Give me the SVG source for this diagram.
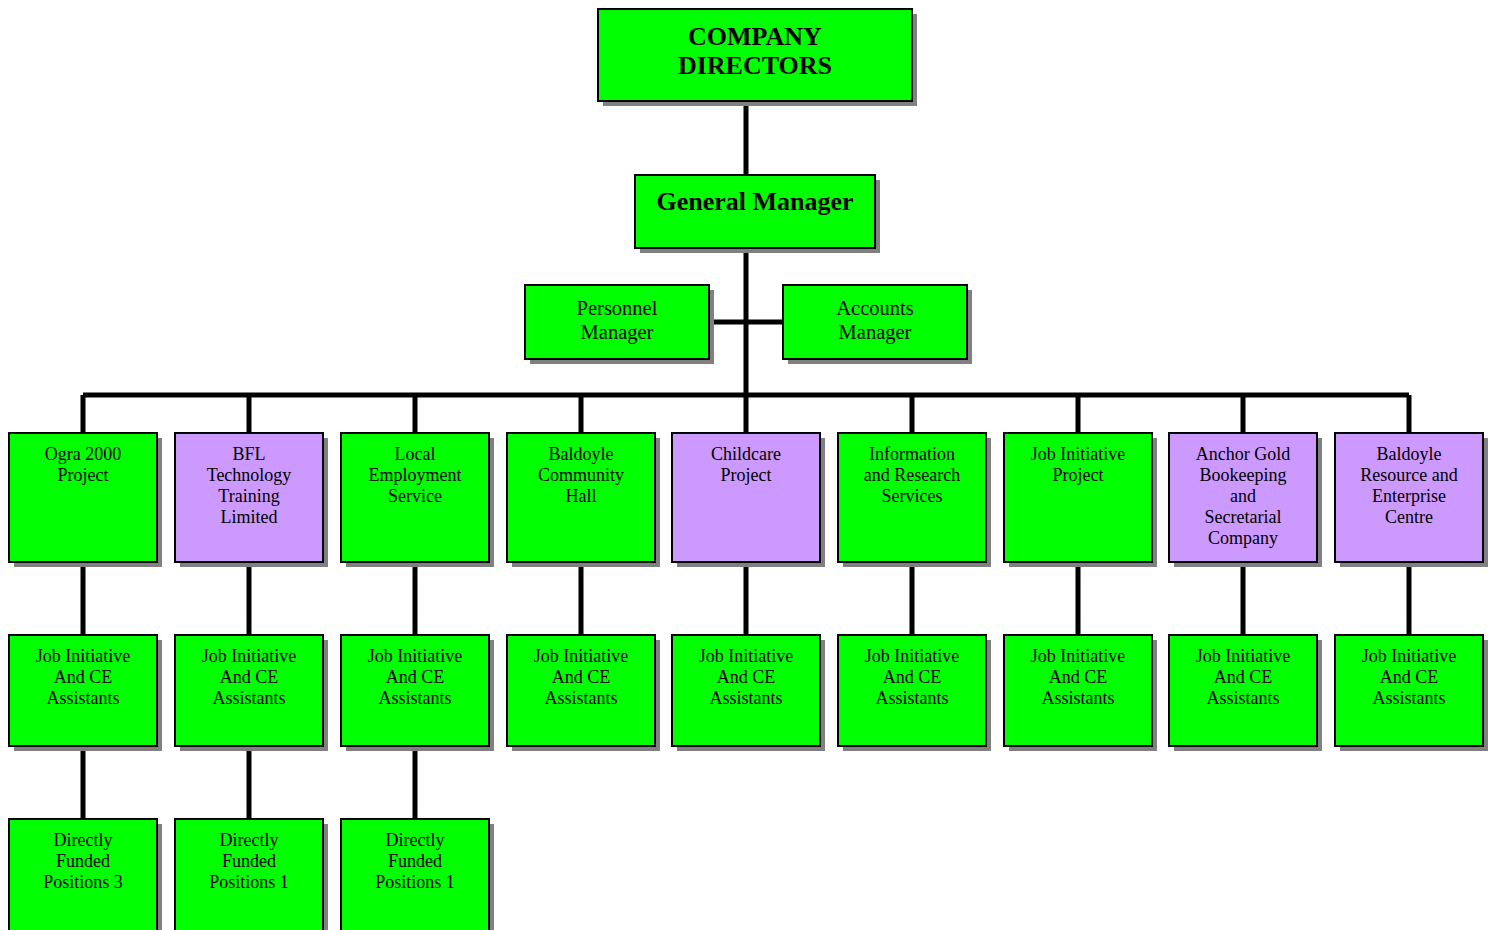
<svg xmlns="http://www.w3.org/2000/svg" width="1494" height="930" viewBox="0 0 1494 930">
<style>
.sh{fill:#808080}
.g{fill:#00ff00;stroke:#000;stroke-width:2}
.p{fill:#cc99ff;stroke:#000;stroke-width:2}
.c{stroke:#000;stroke-width:5;fill:none}
text{font-family:"Liberation Serif","Times New Roman",serif;fill:#000;text-anchor:middle}
.t18{font-size:18px}
.t20{font-size:20.5px}
.hb{font-size:26px;font-weight:bold}
.gb{font-size:26px;font-weight:bold}
</style>
<rect width="1494" height="930" fill="#fff"/>
<g id="connectors">
<path class="c" d="M746 101V175M746 248V395M709 322H783M83 395H1409"/>
<path class="c" d="M83 395V433M249 395V433M415 395V433M581 395V433M746 395V433M912 395V433M1078 395V433M1243 395V433M1409 395V433"/>
<path class="c" d="M83 562V635M249 562V635M415 562V635M581 562V635M746 562V635M912 562V635M1078 562V635M1243 562V635M1409 562V635"/>
<path class="c" d="M83 746V819M249 746V819M415 746V819"/>
</g>
<g id="directors"><rect class="sh" x="603" y="14" width="314" height="92"/><rect class="g" x="598" y="9" width="314" height="92"/><text class="hb" x="755" y="45">COMPANY</text><text class="hb" x="755" y="74">DIRECTORS</text></g>
<g id="gm"><rect class="sh" x="640" y="180" width="240" height="73"/><rect class="g" x="635" y="175" width="240" height="73"/><text class="gb" x="755" y="210">General Manager</text></g>
<g id="personnel"><rect class="sh" x="530" y="290" width="184" height="74"/><rect class="g" x="525" y="285" width="184" height="74"/><text class="t20" x="617" y="315">Personnel</text><text class="t20" x="617" y="339">Manager</text></g>
<g id="accounts"><rect class="sh" x="788" y="290" width="184" height="74"/><rect class="g" x="783" y="285" width="184" height="74"/><text class="t20" x="875" y="315">Accounts</text><text class="t20" x="875" y="339">Manager</text></g>

<g id="ogra"><rect class="sh" x="14" y="438" width="148" height="129"/><rect class="g" x="9" y="433" width="148" height="129"/><text class="t18" x="83" y="460">Ogra 2000</text><text class="t18" x="83" y="481">Project</text></g>
<g id="bfl"><rect class="sh" x="180" y="438" width="148" height="129"/><rect class="p" x="175" y="433" width="148" height="129"/><text class="t18" x="249" y="460">BFL</text><text class="t18" x="249" y="481">Technology</text><text class="t18" x="249" y="502">Training</text><text class="t18" x="249" y="523">Limited</text></g>
<g id="les"><rect class="sh" x="346" y="438" width="148" height="129"/><rect class="g" x="341" y="433" width="148" height="129"/><text class="t18" x="415" y="460">Local</text><text class="t18" x="415" y="481">Employment</text><text class="t18" x="415" y="502">Service</text></g>
<g id="hall"><rect class="sh" x="512" y="438" width="148" height="129"/><rect class="g" x="507" y="433" width="148" height="129"/><text class="t18" x="581" y="460">Baldoyle</text><text class="t18" x="581" y="481">Community</text><text class="t18" x="581" y="502">Hall</text></g>
<g id="childcare"><rect class="sh" x="677" y="438" width="148" height="129"/><rect class="p" x="672" y="433" width="148" height="129"/><text class="t18" x="746" y="460">Childcare</text><text class="t18" x="746" y="481">Project</text></g>
<g id="info"><rect class="sh" x="843" y="438" width="148" height="129"/><rect class="g" x="838" y="433" width="148" height="129"/><text class="t18" x="912" y="460">Information</text><text class="t18" x="912" y="481">and Research</text><text class="t18" x="912" y="502">Services</text></g>
<g id="jip"><rect class="sh" x="1009" y="438" width="148" height="129"/><rect class="g" x="1004" y="433" width="148" height="129"/><text class="t18" x="1078" y="460">Job Initiative</text><text class="t18" x="1078" y="481">Project</text></g>
<g id="anchor"><rect class="sh" x="1174" y="438" width="148" height="129"/><rect class="p" x="1169" y="433" width="148" height="129"/><text class="t18" x="1243" y="460">Anchor Gold</text><text class="t18" x="1243" y="481">Bookeeping</text><text class="t18" x="1243" y="502">and</text><text class="t18" x="1243" y="523">Secretarial</text><text class="t18" x="1243" y="544">Company</text></g>
<g id="brec"><rect class="sh" x="1340" y="438" width="148" height="129"/><rect class="p" x="1335" y="433" width="148" height="129"/><text class="t18" x="1409" y="460">Baldoyle</text><text class="t18" x="1409" y="481">Resource and</text><text class="t18" x="1409" y="502">Enterprise</text><text class="t18" x="1409" y="523">Centre</text></g>

<g id="ja1"><rect class="sh" x="14" y="640" width="148" height="111"/><rect class="g" x="9" y="635" width="148" height="111"/><text class="t18" x="83" y="662">Job Initiative</text><text class="t18" x="83" y="683">And CE</text><text class="t18" x="83" y="704">Assistants</text></g>
<g id="ja2"><rect class="sh" x="180" y="640" width="148" height="111"/><rect class="g" x="175" y="635" width="148" height="111"/><text class="t18" x="249" y="662">Job Initiative</text><text class="t18" x="249" y="683">And CE</text><text class="t18" x="249" y="704">Assistants</text></g>
<g id="ja3"><rect class="sh" x="346" y="640" width="148" height="111"/><rect class="g" x="341" y="635" width="148" height="111"/><text class="t18" x="415" y="662">Job Initiative</text><text class="t18" x="415" y="683">And CE</text><text class="t18" x="415" y="704">Assistants</text></g>
<g id="ja4"><rect class="sh" x="512" y="640" width="148" height="111"/><rect class="g" x="507" y="635" width="148" height="111"/><text class="t18" x="581" y="662">Job Initiative</text><text class="t18" x="581" y="683">And CE</text><text class="t18" x="581" y="704">Assistants</text></g>
<g id="ja5"><rect class="sh" x="677" y="640" width="148" height="111"/><rect class="g" x="672" y="635" width="148" height="111"/><text class="t18" x="746" y="662">Job Initiative</text><text class="t18" x="746" y="683">And CE</text><text class="t18" x="746" y="704">Assistants</text></g>
<g id="ja6"><rect class="sh" x="843" y="640" width="148" height="111"/><rect class="g" x="838" y="635" width="148" height="111"/><text class="t18" x="912" y="662">Job Initiative</text><text class="t18" x="912" y="683">And CE</text><text class="t18" x="912" y="704">Assistants</text></g>
<g id="ja7"><rect class="sh" x="1009" y="640" width="148" height="111"/><rect class="g" x="1004" y="635" width="148" height="111"/><text class="t18" x="1078" y="662">Job Initiative</text><text class="t18" x="1078" y="683">And CE</text><text class="t18" x="1078" y="704">Assistants</text></g>
<g id="ja8"><rect class="sh" x="1174" y="640" width="148" height="111"/><rect class="g" x="1169" y="635" width="148" height="111"/><text class="t18" x="1243" y="662">Job Initiative</text><text class="t18" x="1243" y="683">And CE</text><text class="t18" x="1243" y="704">Assistants</text></g>
<g id="ja9"><rect class="sh" x="1340" y="640" width="148" height="111"/><rect class="g" x="1335" y="635" width="148" height="111"/><text class="t18" x="1409" y="662">Job Initiative</text><text class="t18" x="1409" y="683">And CE</text><text class="t18" x="1409" y="704">Assistants</text></g>

<g id="df1"><rect class="sh" x="14" y="824" width="148" height="120"/><rect class="g" x="9" y="819" width="148" height="120"/><text class="t18" x="83" y="846">Directly</text><text class="t18" x="83" y="867">Funded</text><text class="t18" x="83" y="888">Positions 3</text></g>
<g id="df2"><rect class="sh" x="180" y="824" width="148" height="120"/><rect class="g" x="175" y="819" width="148" height="120"/><text class="t18" x="249" y="846">Directly</text><text class="t18" x="249" y="867">Funded</text><text class="t18" x="249" y="888">Positions 1</text></g>
<g id="df3"><rect class="sh" x="346" y="824" width="148" height="120"/><rect class="g" x="341" y="819" width="148" height="120"/><text class="t18" x="415" y="846">Directly</text><text class="t18" x="415" y="867">Funded</text><text class="t18" x="415" y="888">Positions 1</text></g>
</svg>
